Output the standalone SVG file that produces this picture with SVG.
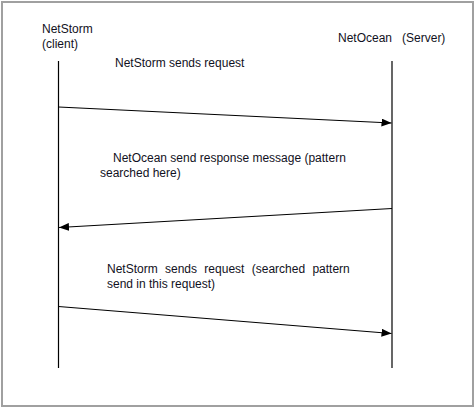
<svg xmlns="http://www.w3.org/2000/svg" width="475" height="408" viewBox="0 0 475 408">
<style>
.t{font-family:"Liberation Sans",Arial,sans-serif;font-size:12px;fill:#111122}
.life{stroke:#000;stroke-width:1.2}
.msg{stroke:#000;stroke-width:1.2;fill:none;marker-end:url(#ah)}
</style>
<defs>
<marker id="ah" viewBox="0 0 10 8" refX="10" refY="4" markerWidth="10" markerHeight="8" markerUnits="userSpaceOnUse" orient="auto">
<path d="M0,0 L10,4 L0,8 Z" fill="#000"/>
</marker>
</defs>
<rect x="0" y="0" width="475" height="408" fill="#fff"/>
<rect x="2" y="2" width="471" height="404" fill="none" stroke="#a0a0a0" stroke-width="2"/>
<g id="client">
<text class="t" x="42" y="33">NetStorm</text>
<text class="t" x="42" y="48">(client)</text>
<line class="life" x1="58.5" y1="61" x2="58.5" y2="368"/>
</g>
<g id="server">
<text class="t" x="338" y="42" xml:space="preserve">NetOcean   (Server)</text>
<line class="life" x1="392" y1="61" x2="392" y2="368"/>
</g>
<g id="connectors">
<line class="msg" x1="58.5" y1="107" x2="391.5" y2="123"/>
<line class="msg" x1="392" y1="208.5" x2="59" y2="227.5"/>
<line class="msg" x1="58.5" y1="306.5" x2="391.5" y2="333.5"/>
</g>
<g id="labels">
<text class="t" x="115" y="67">NetStorm sends request</text>
<text class="t" x="113" y="162">NetOcean send response message (pattern</text>
<text class="t" x="100" y="177">searched here)</text>
<text class="t" x="107" y="273" word-spacing="4">NetStorm sends request (searched pattern</text>
<text class="t" x="107" y="288">send in this request)</text>
</g>
</svg>
